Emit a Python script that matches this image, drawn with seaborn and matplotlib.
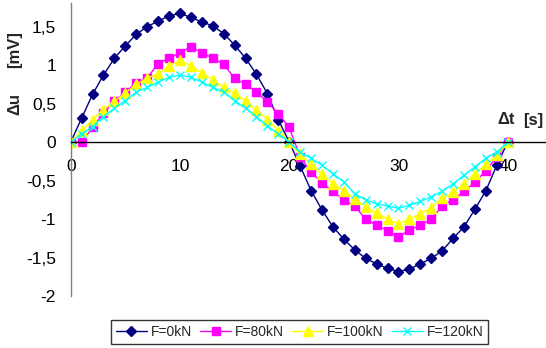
import numpy as np
import pandas as pd
import seaborn as sns
import matplotlib
matplotlib.use('agg')
import matplotlib.pyplot as plt
from matplotlib.ticker import FuncFormatter

# time axis [s]
t = list(range(0, 41))

# delta u [mV], one list per load
f0 = [0, 0.31, 0.62, 0.87, 1.09, 1.25, 1.40, 1.50, 1.57, 1.64, 1.67,
      1.62, 1.56, 1.51, 1.41, 1.26, 1.09, 0.88, 0.63, 0.29, 0.0,
      -0.31, -0.63, -0.88, -1.10, -1.26, -1.40, -1.51, -1.58, -1.64, -1.68,
      -1.65, -1.58, -1.51, -1.41, -1.25, -1.10, -0.87, -0.63, -0.30, 0.0]
f80 = [0, 0, 0.19, 0.38, 0.53, 0.65, 0.77, 0.83, 1.02, 1.09, 1.16,
       1.24, 1.16, 1.09, 1.01, 0.83, 0.75, 0.65, 0.52, 0.37, 0.19,
       -0.19, -0.39, -0.53, -0.64, -0.75, -0.83, -1.00, -1.08, -1.15, -1.23,
       -1.14, -1.08, -1.00, -0.83, -0.75, -0.64, -0.52, -0.37, -0.19, 0.0]
f100 = [0, 0.15, 0.29, 0.42, 0.53, 0.64, 0.75, 0.83, 0.89, 0.99, 1.06,
        0.99, 0.90, 0.81, 0.71, 0.64, 0.53, 0.42, 0.29, 0.15, 0.0,
        -0.16, -0.29, -0.42, -0.54, -0.63, -0.74, -0.84, -0.92, -1.00, -1.06,
        -1.00, -0.93, -0.85, -0.73, -0.65, -0.54, -0.41, -0.29, -0.17, 0.0]
f120 = [0, 0.11, 0.20, 0.33, 0.44, 0.54, 0.65, 0.71, 0.78, 0.84, 0.87,
        0.84, 0.78, 0.71, 0.65, 0.54, 0.44, 0.33, 0.21, 0.11, 0.0,
        -0.13, -0.21, -0.30, -0.41, -0.52, -0.67, -0.75, -0.80, -0.83, -0.86,
        -0.82, -0.77, -0.71, -0.64, -0.54, -0.43, -0.32, -0.21, -0.13, 0.0]

labels = ['F=0kN', 'F=80kN', 'F=100kN', 'F=120kN']
colors = ['#000080', '#ff00ff', '#ffff00', '#00ffff']
markers = ['D', 's', '^', 'x']
sizes = [5.2, 5.5, 6.5, 6]

sns.set_theme(style="white")
plt.rcParams['font.family'] = ['Liberation Sans', 'DejaVu Sans']

fig = plt.figure(figsize=(5.46, 3.48), dpi=100)
ax = fig.add_axes([0.1295, 0.149, 0.8705, 0.841])

for vals, lab, c, m, s in zip([f0, f80, f100, f120], labels, colors, markers, sizes):
    sns.lineplot(x=t, y=vals, ax=ax, color=c, marker=m, markersize=s,
                 markeredgecolor=c, markerfacecolor=c, markeredgewidth=1,
                 linewidth=1, label=lab)

ax.set_xlim(0, 43.5)
ax.set_ylim(-2, 1.8)
ax.set_xticks([0, 10, 20, 30, 40])
ax.set_yticks(np.arange(-2, 1.51, 0.5))
ax.yaxis.set_major_formatter(FuncFormatter(lambda v, p: f'{v:g}'.replace('.', ',')))

ax.spines['top'].set_visible(False)
ax.spines['right'].set_visible(False)
ax.spines['bottom'].set_position(('data', 0))
ax.spines['bottom'].set_color('black')
ax.spines['bottom'].set_linewidth(1)
ax.spines['left'].set_color('#808080')
ax.spines['left'].set_linewidth(1)
ax.tick_params(axis='both', direction='out', width=1, color='#808080',
               labelsize=12.5, labelcolor='black')
ax.tick_params(axis='y', length=3.5, pad=7)
ax.tick_params(axis='x', length=3.5, pad=8.5)
ax.set_xlabel('')
ax.set_ylabel('')

# axis titles, split in two pieces like the original
fig.text(15 / 546, 1 - 104 / 348, '\u0394u', rotation=90, ha='center', va='center',
         fontsize=12, fontweight='bold')
fig.text(15 / 546, 1 - 50 / 348, '[mV]', rotation=90, ha='center', va='center',
         fontsize=12, fontweight='bold')
fig.text(506.5 / 546, 1 - 120 / 348, '\u0394t', ha='center', va='center',
         fontsize=12, fontweight='bold')
fig.text(533 / 546, 1 - 120 / 348, '[s]', ha='center', va='center',
         fontsize=12, fontweight='bold')

ax.get_legend().remove()
handles, labs = ax.get_legend_handles_labels()
leg = fig.legend(handles, labs, loc='center', bbox_to_anchor=(0.549, 0.046), ncol=4,
                 fontsize=10, frameon=True, fancybox=False, handlelength=2.2,
                 numpoints=1, columnspacing=0.6, handletextpad=0.3, borderpad=0.35,
                 borderaxespad=0)
leg.get_frame().set_edgecolor('black')
leg.get_frame().set_linewidth(1)

fig.savefig('out.png', dpi=100)
